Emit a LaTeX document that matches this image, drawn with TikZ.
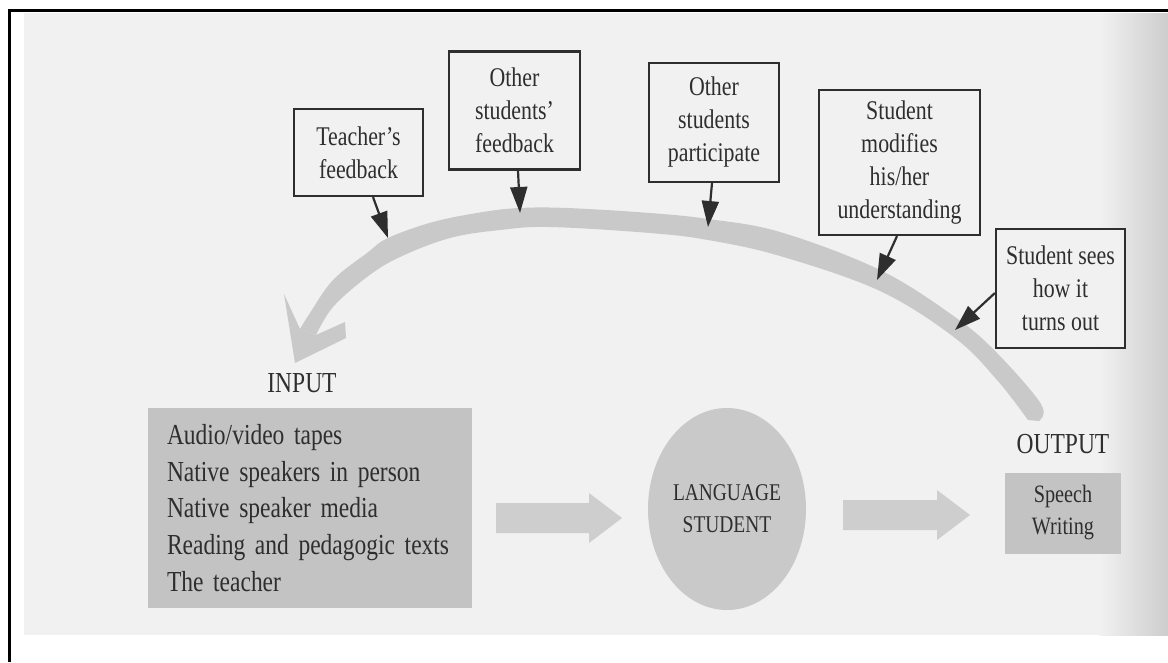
\documentclass[tikz,border=0pt]{standalone}
\usepackage{fontspec}
\setmainfont[FakeStretch=0.81]{Liberation Serif}
\usetikzlibrary{arrows.meta,shapes.geometric}
\definecolor{bg}{HTML}{F1F1F1}
\definecolor{ink}{HTML}{2E2E2E}
\definecolor{band}{HTML}{C9C9C9}
\definecolor{boxgray}{HTML}{C3C3C3}
\definecolor{fat}{HTML}{CECECE}
\definecolor{edgegray}{HTML}{CDCDCD}
\begin{document}
\begin{tikzpicture}[x=1pt,y=-1pt,
  fb/.style={draw=ink, line width=2.2pt, fill=bg, text=ink, align=center, inner sep=0pt, font=\fontsize{27}{33}\selectfont},
  pointer/.style={draw=ink, line width=2.2pt, -{Triangle[length=26pt,width=17pt]}},
  lbl/.style={text=ink, font=\fontsize{29}{36}\selectfont, inner sep=0pt},
  fatarrow/.style={fill=fat},
]
\useasboundingbox (0,0) rectangle (1168,662);
\fill[white] (0,0) rectangle (1168,662);
\fill[bg] (24,13) rectangle (1168,635);
\shade[left color=bg, right color=edgegray] (1100,13) rectangle (1168,635);
\draw[black, line width=3pt] (9,662) -- (9,10.5) -- (1168,10.5);

% curved feedback band
\fill[band] plot[smooth, tension=0.6] coordinates {(300,329) (310,313) (333,280) (367,253) (388,238) (433,222) (483,212) (520,208) (567,208) (650,213) (708,219) (780,232) (880,270) (955,317) (997,353) (1041,404) (1039,421)}
  -- plot[smooth, tension=0.6] coordinates {(1028,420) (997,380) (955,338) (880,291) (780,256) (708,240) (650,233) (550,227) (500,230) (450,238) (400,257) (367,277) (333,307) (316,335)} -- cycle;
\fill[band] (284,294) -- (300,329) -- (316,335) -- (345,322) -- (346,338) -- (295,363) -- cycle;

\coordinate (p1) at (388,238);
\coordinate (p2) at (520,213);
\coordinate (p3) at (708,227);
\coordinate (p4) at (877,280);
\coordinate (p5) at (955,330);

\node[fb, minimum width=129pt, minimum height=87pt] (teach) at (358.5,152.5) {Teacher’s\\feedback};
\node[fb, minimum width=131pt, minimum height=118pt] (ofb) at (514.5,110.5) {Other\\students’\\feedback};
\node[fb, minimum width=130pt, minimum height=119pt] (opart) at (714,122.5) {Other\\students\\participate};
\node[fb, minimum width=161pt, minimum height=145pt] (modif) at (899.5,162.5) {Student\\modifies\\his/her\\understanding};
\node[fb, minimum width=129pt, minimum height=119pt] (sees) at (1060.5,288.5) {Student sees\\how it\\turns out};

\draw[pointer] ([xshift=14.5pt]teach.south) -- (p1);
\draw[pointer] ([xshift=3.5pt]ofb.south) -- (p2);
\draw[pointer] ([xshift=-2pt]opart.south) -- (p3);
\draw[pointer] ([xshift=-2.5pt]modif.south) -- (p4);
\draw[pointer] ([yshift=-4.5pt]sees.west) -- (p5);

\node[lbl] (inlab) at (302,383) {INPUT};
\node[fill=boxgray, text width=286pt, inner xsep=19pt, inner ysep=0pt, minimum height=200pt, align=left, text=ink, font=\fontsize{29}{36.8}\selectfont] (input) at (310,508)
  {Audio/video tapes\\Native speakers in person\\Native speaker media\\Reading and pedagogic texts\\The teacher};

\node[ellipse, fill=band, minimum width=158pt, minimum height=202pt, inner sep=0pt, align=center, text=ink, font=\fontsize{24}{32}\selectfont] (student) at (727,509) {LANGUAGE\\STUDENT};

\node[lbl] (outlab) at (1063,444) {OUTPUT};
\node[fill=boxgray, minimum width=116pt, minimum height=81pt, inner sep=0pt, align=center, text=ink, font=\fontsize{25}{32}\selectfont] (output) at (1063,513) {Speech\\Writing};

\fill[fatarrow] (496,503) -- (589,503) -- (589,493) -- (622,518) -- (589,543) -- (589,533) -- (496,533) -- cycle;
\fill[fatarrow] (843,500) -- (937,500) -- (937,490) -- (970,515) -- (937,540) -- (937,530) -- (843,530) -- cycle;
\end{tikzpicture}
\end{document}
